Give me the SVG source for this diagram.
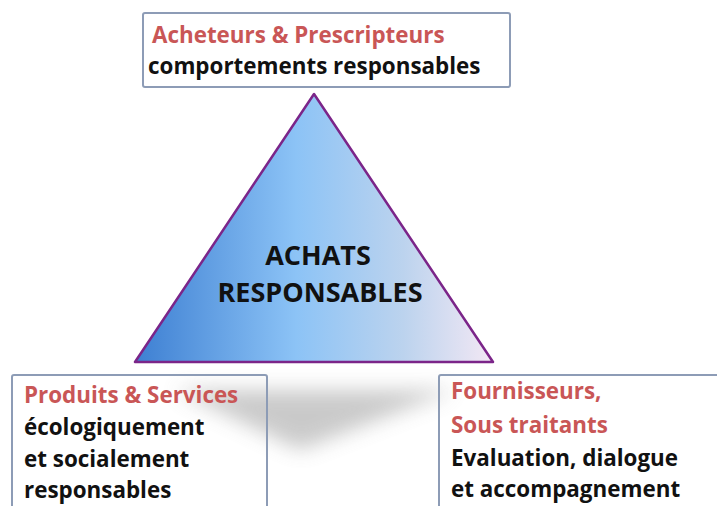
<svg xmlns="http://www.w3.org/2000/svg" width="717" height="506" viewBox="0 0 717 506">
<defs>
<linearGradient id="tri" x1="135" y1="0" x2="493" y2="0" gradientUnits="userSpaceOnUse">
<stop offset="0" stop-color="#3d7fd2"/>
<stop offset="0.45" stop-color="#8cc3f6"/>
<stop offset="0.75" stop-color="#bcd3ee"/>
<stop offset="1" stop-color="#f3e8f4"/>
</linearGradient>
<filter id="blur" x="-30%" y="-50%" width="160%" height="200%"><feGaussianBlur stdDeviation="10"/></filter>
<style>
.box{fill:none;stroke:#8d9cb6;stroke-width:2}
.t{font-family:"Open Sans","Liberation Sans",sans-serif;font-weight:700;font-size:22.4px}
.red{fill:#c95656}
.blk{fill:#111}
.ctr{font-family:"Open Sans","Liberation Sans",sans-serif;font-weight:700;font-size:27px;fill:#111;text-anchor:middle}
</style>
</defs>
<rect width="717" height="506" fill="#fff"/>
<g id="shadow">
<polygon points="175,390 455,390 300,450" fill="#8a8a8a" opacity="0.45" filter="url(#blur)"/>
</g>
<g id="top">
<rect class="box" x="143" y="13" width="367" height="74" rx="2"/>
<text class="t red" x="152" y="43">Acheteurs &amp; Prescripteurs</text>
<text class="t blk" x="148" y="74">comportements responsables</text>
</g>
<g id="triangle">
<polygon points="314,94 135,362 493,362" fill="url(#tri)" stroke="#7b2589" stroke-width="2.5" stroke-linejoin="round"/>
<text class="ctr" x="318" y="265">ACHATS</text>
<text class="ctr" x="320" y="302">RESPONSABLES</text>
</g>
<g id="left">
<rect class="box" x="12" y="375" width="255" height="140" rx="2"/>
<text class="t red" x="24" y="403">Produits &amp; Services</text>
<text class="t blk" x="24" y="435">écologiquement</text>
<text class="t blk" x="24" y="467">et socialement</text>
<text class="t blk" x="24" y="498">responsables</text>
</g>
<g id="right">
<rect class="box" x="439" y="375" width="290" height="140" rx="2"/>
<text class="t red" x="451" y="399">Fournisseurs,</text>
<text class="t red" x="451" y="433">Sous traitants</text>
<text class="t blk" x="451" y="466">Evaluation, dialogue</text>
<text class="t blk" x="451" y="497">et accompagnement</text>
</g>
<g id="connectors"></g>
</svg>
